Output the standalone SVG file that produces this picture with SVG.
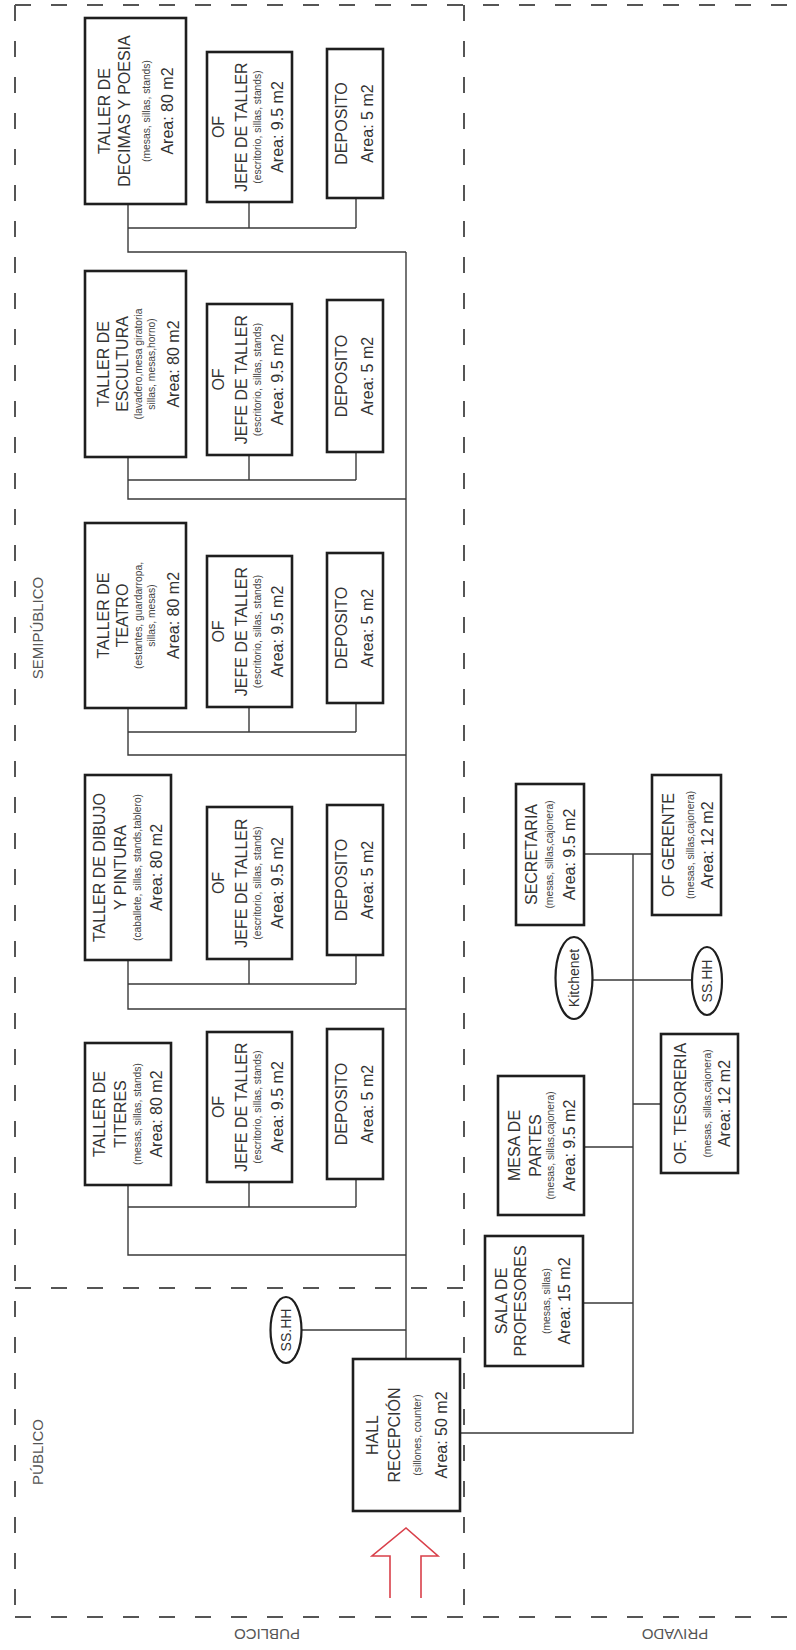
<svg xmlns="http://www.w3.org/2000/svg" width="796" height="1650" viewBox="0 0 796 1650">
<style>
.bg{fill:#fff}
.zone{fill:none;stroke:#555;stroke-width:2;stroke-dasharray:16 20}
.box{fill:#fff;stroke:#1e1e1e;stroke-width:2.6}
.ov{fill:#fff;stroke:#1e1e1e;stroke-width:2.2}
.ln{fill:none;stroke:#3a3a3a;stroke-width:1.4}
.t{font-family:"Liberation Sans",Arial,sans-serif;font-size:16px;fill:#333;text-anchor:middle}
.s{font-family:"Liberation Sans",Arial,sans-serif;font-size:10.3px;fill:#444;text-anchor:middle}
.o{font-family:"Liberation Sans",Arial,sans-serif;font-size:14px;fill:#333;text-anchor:middle}
.lab{font-family:"Liberation Sans",Arial,sans-serif;font-size:15px;fill:#555;text-anchor:middle}
.arrow{fill:none;stroke:#d9404a;stroke-width:1.6;stroke-linejoin:miter}
</style>
<rect class="bg" x="0" y="0" width="796" height="1650"/>

<g id="zones">
<line class="zone" x1="15" y1="5" x2="796" y2="5"/>
<line class="zone" x1="15" y1="5" x2="15" y2="1617"/>
<line class="zone" x1="15" y1="1617" x2="796" y2="1617"/>
<line class="zone" x1="464" y1="5" x2="464" y2="1617"/>
<line class="zone" x1="15" y1="1288" x2="464" y2="1288"/>
<text class="lab" x="43" y="628" transform="rotate(-90 43 628)">SEMIPÚBLICO</text>
<text class="lab" x="43" y="1452" transform="rotate(-90 43 1452)">PÚBLICO</text>
<text class="lab" x="267" y="1629" transform="rotate(180 267 1629)">PUBLICO</text>
<text class="lab" x="675" y="1629" transform="rotate(180 675 1629)">PRIVADO</text>
</g>

<g id="connectors">
<path class="ln" d="M128,204 V252 H406 M249,202 V228 M356,198 V228 M128,228 H356"/>
<path class="ln" d="M128,457 V499 H406 M249,455 V480 M356,452 V480 M128,480 H356"/>
<path class="ln" d="M128,708 V755 H406 M249,707 V732 M356,703 V732 M128,732 H356"/>
<path class="ln" d="M128,960 V1009 H406 M249,959 V984 M356,955 V984 M128,984 H356"/>
<path class="ln" d="M128,1185 V1255 H406 M249,1182 V1207 M356,1179 V1207 M128,1207 H356"/>
<path class="ln" d="M406,252 V1359"/>
<path class="ln" d="M302,1330 H406"/>
<path class="ln" d="M460,1433 H633 V854 M584,854 H652 M592,980 H692 M584,1147 H633 M633,1104 H661 M583,1303 H633"/>
</g>

<g id="arrow">
<path class="arrow" d="M390,1598 V1556 H372 L406,1528 L438,1556 H421 V1598"/>
</g>

<g id="taller-decimas">
<rect class="box" x="85" y="18" width="101" height="186"/>
<text class="t" x="110" y="111" transform="rotate(-90 110 111)">TALLER DE</text>
<text class="t" x="130" y="111" transform="rotate(-90 130 111)">DECIMAS Y POESIA</text>
<text class="s" x="150" y="111" transform="rotate(-90 150 111)">(mesas, sillas, stands)</text>
<text class="t" x="173" y="111" transform="rotate(-90 173 111)">Area: 80 m2</text>
</g>
<g id="jefe-1">
<rect class="box" x="207" y="52" width="85" height="150"/>
<text class="t" x="224" y="127" transform="rotate(-90 224 127)">OF</text>
<text class="t" x="247" y="127" transform="rotate(-90 247 127)">JEFE DE TALLER</text>
<text class="s" x="261" y="127" transform="rotate(-90 261 127)">(escritorio, sillas, stands)</text>
<text class="t" x="283" y="127" transform="rotate(-90 283 127)">Area: 9.5 m2</text>
</g>
<g id="deposito-1">
<rect class="box" x="327" y="49" width="56" height="149"/>
<text class="t" x="347" y="123.5" transform="rotate(-90 347 123.5)">DEPOSITO</text>
<text class="t" x="373" y="123.5" transform="rotate(-90 373 123.5)">Area: 5 m2</text>
</g>

<g id="taller-escultura">
<rect class="box" x="85" y="271" width="101" height="186"/>
<text class="t" x="109" y="364" transform="rotate(-90 109 364)">TALLER DE</text>
<text class="t" x="128" y="364" transform="rotate(-90 128 364)">ESCULTURA</text>
<text class="s" x="142" y="364" transform="rotate(-90 142 364)">(lavadero,mesa giratoria</text>
<text class="s" x="155" y="364" transform="rotate(-90 155 364)">sillas, mesas,horno)</text>
<text class="t" x="179" y="364" transform="rotate(-90 179 364)">Area: 80 m2</text>
</g>
<g id="jefe-2">
<rect class="box" x="207" y="304" width="85" height="151"/>
<text class="t" x="224" y="379.5" transform="rotate(-90 224 379.5)">OF</text>
<text class="t" x="247" y="379.5" transform="rotate(-90 247 379.5)">JEFE DE TALLER</text>
<text class="s" x="261" y="379.5" transform="rotate(-90 261 379.5)">(escritorio, sillas, stands)</text>
<text class="t" x="283" y="379.5" transform="rotate(-90 283 379.5)">Area: 9.5 m2</text>
</g>
<g id="deposito-2">
<rect class="box" x="327" y="300" width="56" height="152"/>
<text class="t" x="347" y="376" transform="rotate(-90 347 376)">DEPOSITO</text>
<text class="t" x="373" y="376" transform="rotate(-90 373 376)">Area: 5 m2</text>
</g>

<g id="taller-teatro">
<rect class="box" x="85" y="523" width="101" height="185"/>
<text class="t" x="109" y="615.5" transform="rotate(-90 109 615.5)">TALLER DE</text>
<text class="t" x="128" y="615.5" transform="rotate(-90 128 615.5)">TEATRO</text>
<text class="s" x="142" y="615.5" transform="rotate(-90 142 615.5)">(estantes, guardarropa,</text>
<text class="s" x="155" y="615.5" transform="rotate(-90 155 615.5)">sillas, mesas)</text>
<text class="t" x="179" y="615.5" transform="rotate(-90 179 615.5)">Area: 80 m2</text>
</g>
<g id="jefe-3">
<rect class="box" x="207" y="556" width="85" height="151"/>
<text class="t" x="224" y="631.5" transform="rotate(-90 224 631.5)">OF</text>
<text class="t" x="247" y="631.5" transform="rotate(-90 247 631.5)">JEFE DE TALLER</text>
<text class="s" x="261" y="631.5" transform="rotate(-90 261 631.5)">(escritorio, sillas, stands)</text>
<text class="t" x="283" y="631.5" transform="rotate(-90 283 631.5)">Area: 9.5 m2</text>
</g>
<g id="deposito-3">
<rect class="box" x="327" y="553" width="56" height="150"/>
<text class="t" x="347" y="628" transform="rotate(-90 347 628)">DEPOSITO</text>
<text class="t" x="373" y="628" transform="rotate(-90 373 628)">Area: 5 m2</text>
</g>

<g id="taller-dibujo">
<rect class="box" x="85" y="775" width="86" height="185"/>
<text class="t" x="105" y="867.5" transform="rotate(-90 105 867.5)">TALLER DE DIBUJO</text>
<text class="t" x="126" y="867.5" transform="rotate(-90 126 867.5)">Y PINTURA</text>
<text class="s" x="141" y="867.5" transform="rotate(-90 141 867.5)">(caballete, sillas, stands,tablero)</text>
<text class="t" x="162" y="867.5" transform="rotate(-90 162 867.5)">Area: 80 m2</text>
</g>
<g id="jefe-4">
<rect class="box" x="207" y="807" width="85" height="152"/>
<text class="t" x="224" y="883" transform="rotate(-90 224 883)">OF</text>
<text class="t" x="247" y="883" transform="rotate(-90 247 883)">JEFE DE TALLER</text>
<text class="s" x="261" y="883" transform="rotate(-90 261 883)">(escritorio, sillas, stands)</text>
<text class="t" x="283" y="883" transform="rotate(-90 283 883)">Area: 9.5 m2</text>
</g>
<g id="deposito-4">
<rect class="box" x="327" y="805" width="56" height="150"/>
<text class="t" x="347" y="880" transform="rotate(-90 347 880)">DEPOSITO</text>
<text class="t" x="373" y="880" transform="rotate(-90 373 880)">Area: 5 m2</text>
</g>

<g id="taller-titeres">
<rect class="box" x="85" y="1043" width="86" height="142"/>
<text class="t" x="105" y="1114" transform="rotate(-90 105 1114)">TALLER DE</text>
<text class="t" x="126" y="1114" transform="rotate(-90 126 1114)">TITERES</text>
<text class="s" x="141" y="1114" transform="rotate(-90 141 1114)">(mesas, sillas, stands)</text>
<text class="t" x="162" y="1114" transform="rotate(-90 162 1114)">Area: 80 m2</text>
</g>
<g id="jefe-5">
<rect class="box" x="207" y="1032" width="85" height="150"/>
<text class="t" x="224" y="1107" transform="rotate(-90 224 1107)">OF</text>
<text class="t" x="247" y="1107" transform="rotate(-90 247 1107)">JEFE DE TALLER</text>
<text class="s" x="261" y="1107" transform="rotate(-90 261 1107)">(escritorio, sillas, stands)</text>
<text class="t" x="283" y="1107" transform="rotate(-90 283 1107)">Area: 9.5 m2</text>
</g>
<g id="deposito-5">
<rect class="box" x="327" y="1029" width="56" height="150"/>
<text class="t" x="347" y="1104" transform="rotate(-90 347 1104)">DEPOSITO</text>
<text class="t" x="373" y="1104" transform="rotate(-90 373 1104)">Area: 5 m2</text>
</g>

<g id="sshh-publico">
<ellipse class="ov" cx="286" cy="1330" rx="15.5" ry="33"/>
<text class="o" x="291" y="1330" transform="rotate(-90 291 1330)">SS.HH</text>
</g>

<g id="hall-recepcion">
<rect class="box" x="353" y="1359" width="107" height="152"/>
<text class="t" x="378" y="1435" transform="rotate(-90 378 1435)">HALL</text>
<text class="t" x="400" y="1435" transform="rotate(-90 400 1435)">RECEPCIÓN</text>
<text class="s" x="421" y="1435" transform="rotate(-90 421 1435)">(sillones, counter)</text>
<text class="t" x="447" y="1435" transform="rotate(-90 447 1435)">Area: 50 m2</text>
</g>

<g id="secretaria">
<rect class="box" x="516" y="784" width="68" height="141"/>
<text class="t" x="537" y="854.5" transform="rotate(-90 537 854.5)">SECRETARIA</text>
<text class="s" x="553" y="854.5" transform="rotate(-90 553 854.5)">(mesas, sillas,cajonera)</text>
<text class="t" x="575" y="854.5" transform="rotate(-90 575 854.5)">Area: 9.5 m2</text>
</g>
<g id="of-gerente">
<rect class="box" x="652" y="775" width="69" height="140"/>
<text class="t" x="674" y="845" transform="rotate(-90 674 845)">OF GERENTE</text>
<text class="s" x="694" y="845" transform="rotate(-90 694 845)">(mesas, sillas,cajonera)</text>
<text class="t" x="713" y="845" transform="rotate(-90 713 845)">Area: 12 m2</text>
</g>
<g id="kitchenet">
<ellipse class="ov" cx="574" cy="978" rx="18.5" ry="41"/>
<text class="o" x="579" y="978" transform="rotate(-90 579 978)">Kitchenet</text>
</g>
<g id="sshh-privado">
<ellipse class="ov" cx="707" cy="981" rx="15" ry="34"/>
<text class="o" x="712" y="981" transform="rotate(-90 712 981)">SS.HH</text>
</g>
<g id="of-tesoreria">
<rect class="box" x="661" y="1034" width="77" height="139"/>
<text class="t" x="686" y="1103.5" transform="rotate(-90 686 1103.5)">OF. TESORERIA</text>
<text class="s" x="711" y="1103.5" transform="rotate(-90 711 1103.5)">(mesas, sillas,cajonera)</text>
<text class="t" x="730" y="1103.5" transform="rotate(-90 730 1103.5)">Area: 12 m2</text>
</g>
<g id="mesa-de-partes">
<rect class="box" x="498" y="1076" width="86" height="139"/>
<text class="t" x="520" y="1145.5" transform="rotate(-90 520 1145.5)">MESA DE</text>
<text class="t" x="541" y="1145.5" transform="rotate(-90 541 1145.5)">PARTES</text>
<text class="s" x="554" y="1145.5" transform="rotate(-90 554 1145.5)">(mesas, sillas,cajonera)</text>
<text class="t" x="575" y="1145.5" transform="rotate(-90 575 1145.5)">Area: 9.5 m2</text>
</g>
<g id="sala-profesores">
<rect class="box" x="485" y="1236" width="98" height="130"/>
<text class="t" x="507" y="1301" transform="rotate(-90 507 1301)">SALA DE</text>
<text class="t" x="526" y="1301" transform="rotate(-90 526 1301)">PROFESORES</text>
<text class="s" x="550" y="1301" transform="rotate(-90 550 1301)">(mesas, sillas)</text>
<text class="t" x="570" y="1301" transform="rotate(-90 570 1301)">Area: 15 m2</text>
</g>
</svg>
